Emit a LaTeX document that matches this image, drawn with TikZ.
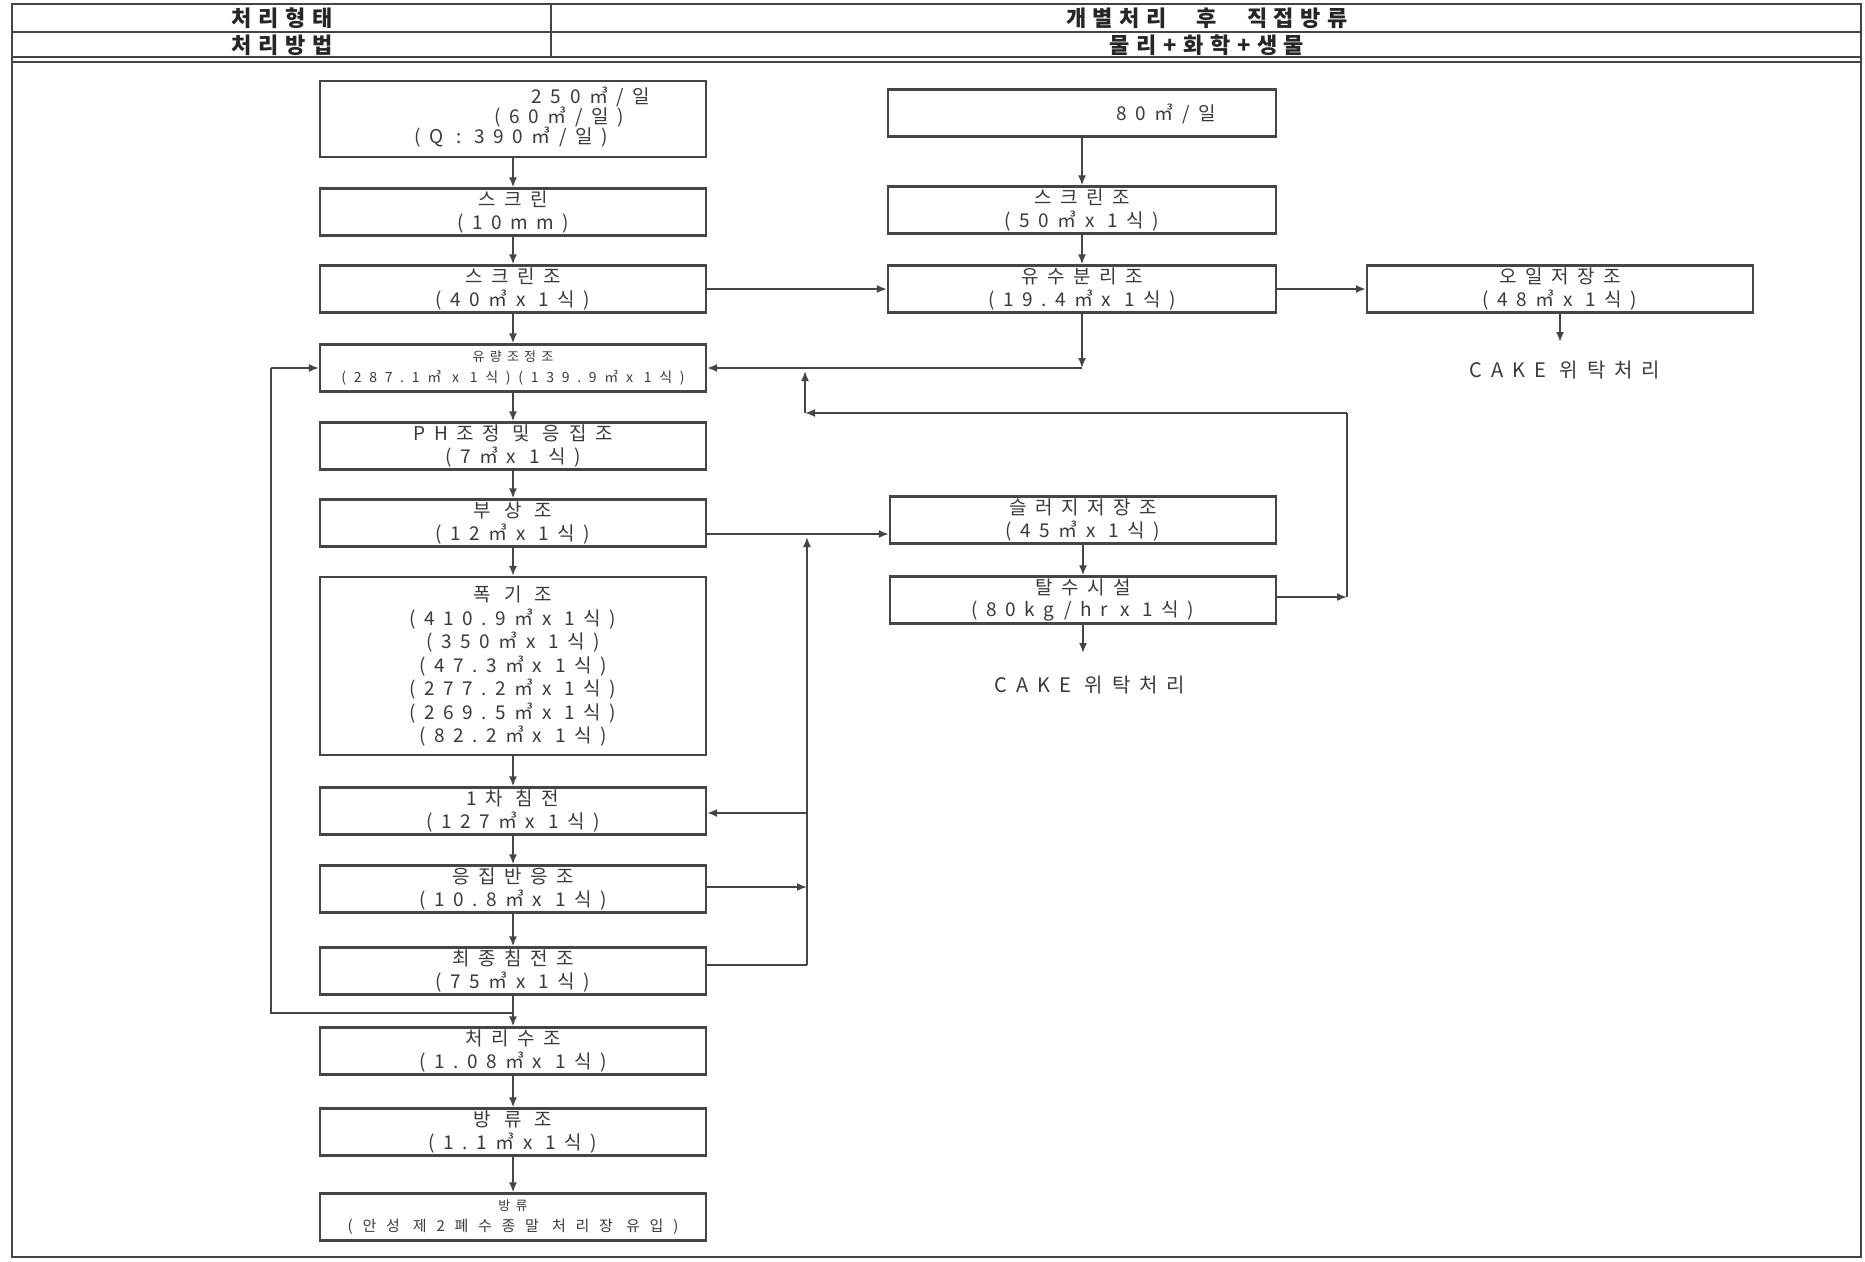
\documentclass[tikz,border=0pt]{standalone}
\usepackage{fontspec}
\newfontfamily\kr[LetterSpace=45]{Noto Sans CJK KR}
\newfontfamily\krs[LetterSpace=40]{Noto Sans CJK KR}
\newfontfamily\krm[LetterSpace=55]{Noto Sans CJK KR}
\newfontfamily\krw[LetterSpace=65]{Noto Sans CJK KR}
\newfontfamily\krh[LetterSpace=30]{Noto Sans CJK KR}
\usetikzlibrary{arrows.meta}
\definecolor{linec}{HTML}{454545}
\definecolor{txt}{HTML}{3A3A3A}
\begin{document}
\begin{tikzpicture}[x=1pt,y=-1pt,
  box/.style={draw=linec, line width=2.2pt, minimum width=386pt, minimum height=47pt,
    inner sep=0pt, align=center, text=txt, font=\kr\fontsize{19}{22.5}\selectfont},
  smallbox/.style={box, font=\krs\fontsize{13}{21}\selectfont},
  lbl/.style={inner sep=0pt, text=txt, font=\kr\fontsize{19}{22.5}\selectfont},
  cake/.style={inner sep=0pt, text=txt, font=\kr\fontsize{20}{24}\selectfont},
  hdr/.style={inner sep=0pt, text=black!85, font=\krh\bfseries\fontsize{22}{24}\selectfont},
  flow/.style={draw=linec, line width=1.8pt, -{Latex[length=10pt,width=8pt]}},
  ln/.style={draw=linec, line width=1.8pt},
]
\useasboundingbox (0,0) rectangle (1865,1261);
\fill[white] (0,0) rectangle (1865,1261);

% frame and header
\draw[linec, line width=2.5pt] (12,4) rectangle (1861,1257);
\draw[linec, line width=2.2pt] (12,32) -- (1861,32);
\draw[linec, line width=2pt] (12,57) -- (1861,57);
\draw[linec, line width=2pt] (12,62) -- (1861,62);
\draw[linec, line width=2.2pt] (551,4) -- (551,57);
\node[hdr] (h1) at (282,18) {처리형태};
\node[hdr] (h2) at (282,45) {처리방법};
\node[hdr] (h3) at (1207,18) {개별처리\hspace{30pt}후\hspace{30pt}직접방류};
\node[hdr] (h4) at (1207,45) {물리+화학+생물};

% left column
\node[box, minimum height=76pt] (b1) at (513,119) {};
\node[lbl] (b1a) at (591,97) {250㎥/일};
\node[lbl] (b1b) at (559,117) {(60㎥/일)};
\node[lbl] (b1c) at (511,137) {(Q : 390㎥/일)};
\node[box] (b2) at (513,212) {스크린\\(10mm)};
\node[box] (b3) at (513,289) {스크린조\\(40㎥x 1식)};
\node[smallbox] (b4) at (513,368) {유량조정조\\{\krm\fontsize{14}{21}\selectfont(287.1㎥ x 1식)(139.9㎥x 1식)}};
\node[box] (b5) at (513,446) {PH조정 및 응집조\\(7㎥x 1식)};
\node[box] (b6) at (513,523) {부 상 조\\(12㎥x 1식)};
\node[box, minimum height=178pt, font=\kr\fontsize{19}{23.5}\selectfont] (b7) at (513,666) {폭 기 조\\(410.9㎥x 1식)\\(350㎥x 1식)\\(47.3㎥x 1식)\\(277.2㎥x 1식)\\(269.5㎥x 1식)\\(82.2㎥x 1식)};
\node[box] (b8) at (513,811) {1차 침전\\(127㎥x 1식)};
\node[box] (b9) at (513,889) {응집반응조\\(10.8㎥x 1식)};
\node[box] (b10) at (513,971) {최종침전조\\(75㎥x 1식)};
\node[box] (b11) at (513,1051) {처리수조\\(1.08㎥x 1식)};
\node[box] (b12) at (513,1132) {방 류 조\\(1.1㎥x 1식)};
\node[smallbox] (b13) at (513,1217) {방류\\{\krw\fontsize{15}{21}\selectfont(안성 제2폐수종말 처리장 유입)}};

% right column
\node[box, minimum width=388pt] (r1) at (1082,113) {};
\node[lbl] (r1a) at (1166,114) {80㎥/일};
\node[box, minimum width=388pt] (r2) at (1082,210) {스크린조\\(50㎥x 1식)};
\node[box, minimum width=388pt] (r3) at (1082,289) {유수분리조\\(19.4㎥x 1식)};
\node[box] (oil) at (1560,289) {오일저장조\\(48㎥x 1식)};
\node[cake] (cake1) at (1565,370) {CAKE 위탁처리};
\node[box] (s1) at (1083,520) {슬러지저장조\\(45㎥x 1식)};
\node[box] (s2) at (1083,600) {탈수시설\\(80kg/hr x 1식)};
\node[cake] (cake2) at (1090,685) {CAKE 위탁처리};

% main flow
\foreach \a/\b in {b1/b2,b2/b3,b3/b4,b4/b5,b5/b6,b6/b7,b7/b8,b8/b9,b9/b10,b10/b11,b11/b12,b12/b13,r1/r2,r2/r3,s1/s2}
  \draw[flow] (\a) -- (\b);
\draw[flow] (b3.east) -- (r3.west);
\draw[flow] (r3.east) -- (oil.west);
\coordinate (c1) at (1560,342);
\draw[flow] (oil.south) -- (c1);
\coordinate (c2) at (1083,653);
\draw[flow] (s2.south) -- (c2);

% oil separator overflow back to equalisation
\coordinate (j1) at (r3.south |- b4.east);
\draw[flow] (r3.south) -- (j1);
\draw[flow] (j1) -- (b4.east);

% dewatering filtrate return
\coordinate (k1) at (1347,597);
\coordinate (k2) at (1347,413);
\coordinate (k3) at (805,413);
\coordinate (k4) at (805,371);
\draw[flow] (s2.east |- k1) -- (k1);
\draw[ln] (k1) -- (k2);
\draw[flow] (k2) -- (k3);
\draw[flow] (k3) -- (k4);

% sludge line
\coordinate (m0) at (807,534);
\draw[flow] (b6.east |- m0) -- (s1.west |- m0);
\coordinate (v1) at (807,965);
\coordinate (v9) at (807,887);
\coordinate (v8) at (807,813);
\coordinate (m1) at (807,537);
\draw[ln] (b10.east |- v1) -- (v1);
\draw[flow] (v1) -- (m1);
\draw[flow] (b9.east |- v9) -- (v9);
\draw[flow] (v8) -- (b8.east |- v8);

% return to equalisation tank
\coordinate (f1) at (513,1013);
\coordinate (f2) at (271,1013);
\coordinate (f3) at (271,368);
\draw[ln] (f1) -- (f2) -- (f3);
\draw[flow] (f3) -- (b4.west);
\end{tikzpicture}
\end{document}
